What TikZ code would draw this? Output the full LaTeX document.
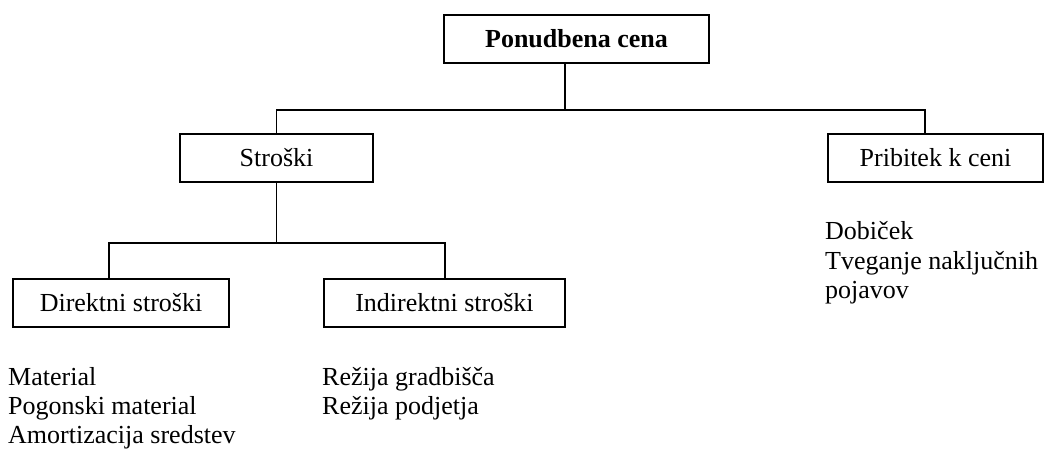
\documentclass[tikz,border=0pt]{standalone}
\usepackage{fontspec}
\setmainfont{Liberation Serif}
\begin{document}
\begin{tikzpicture}[x=1pt,y=-1pt,
  box/.style={draw, line width=1.6pt, inner sep=0pt, minimum height=48pt, font=\fontsize{26}{30}\selectfont},
  conn/.style={line width=1.6pt},
  txt/.style={inner sep=0pt, anchor=base west, font=\fontsize{26}{30}\selectfont}]
\useasboundingbox (0,0) rectangle (1045,449);
% boxes
\node[box, minimum width=265pt, font=\fontsize{26}{30}\selectfont\bfseries] (top) at (576.5,39) {Ponudbena cena};
\node[box, minimum width=193pt] (stroski) at (276.5,158) {Stroški};
\node[box, minimum width=215pt] (pribitek) at (935.5,158) {Pribitek k ceni};
\node[box, minimum width=216pt] (direktni) at (121,303) {Direktni stroški};
\node[box, minimum width=241pt] (indirektni) at (444.5,303) {Indirektni stroški};
% junction coordinates
\coordinate (j1) at (565,110);
\coordinate (pb) at (925,110);
\coordinate (j2) at (276.5,243);
\coordinate (dl) at (109,243);
\coordinate (il) at (445,243);
% connectors
\draw[conn] (top.south -| j1) -- (j1);
\draw[conn] (stroski.north) |- (pb) -- (pribitek.north -| pb);
\draw[conn] (stroski.south) -- (j2);
\draw[conn] (direktni.north -| dl) -- (dl) -- (il) -- (indirektni.north -| il);
% texts
\node[txt] (d1) at (825,240) {Dobiček};
\node[txt] (d2) at (825,269.5) {Tveganje naključnih};
\node[txt] (d3) at (825,299) {pojavov};
\node[txt] (m1) at (8,385) {Material};
\node[txt] (m2) at (8,414) {Pogonski material};
\node[txt] (m3) at (8,443) {Amortizacija sredstev};
\node[txt] (r1) at (322,385) {Režija gradbišča};
\node[txt] (r2) at (322,414) {Režija podjetja};
\end{tikzpicture}
\end{document}
